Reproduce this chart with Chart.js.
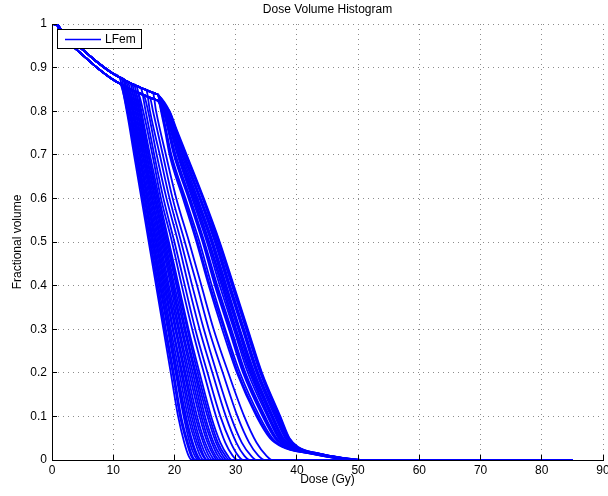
<!DOCTYPE html>
<html lang="en">
<head>
<meta charset="UTF-8">
<title>Dose Volume Histogram</title>
<style>
    body {
        margin: 0;
        background-color: #fff;
    }
    #wrap {
        width: 608px;
        height: 496px;
    }
</style>
<script src="https://cdn.jsdelivr.net/npm/chart.js"></script>
</head>
<body>
<div id="wrap"><canvas id="dvh" width="608" height="496"></canvas></div>
<script>
// shoulder shared by every curve (dose in Gy -> fractional volume)
var headDose  = [0, 0.8, 1.3, 2, 3, 4.6, 7, 10, 11, 12, 13, 14, 15, 16, 17];
var headUpper = [1, 1, 0.99, 0.977, 0.963, 0.946, 0.917, 0.886, 0.878, 0.870, 0.863, 0.857, 0.851, 0.845, 0.840];
var headLower = [1, 0.998, 0.984, 0.969, 0.954, 0.934, 0.904, 0.872, 0.864, 0.856, 0.849, 0.843, 0.837, 0.831, 0.826];

// steep curves: point where each leaves the shoulder (even rows on the upper
// shoulder, odd rows on the lower one), then dose at each volume level
var steepVols = [0.8, 0.7, 0.6, 0.5, 0.4, 0.3, 0.2, 0.1, 0.04, 0.01, 0];
var steepBreaks = [
    [11.0, 0.878], [11.2, 0.862], [11.3, 0.876], [11.4, 0.861], [11.6, 0.873],
    [11.7, 0.858], [11.8, 0.872], [12.0, 0.856], [12.1, 0.869], [12.3, 0.854],
    [12.4, 0.867], [12.6, 0.852], [12.8, 0.864], [12.9, 0.850], [13.1, 0.862],
    [13.3, 0.847], [13.4, 0.861], [13.6, 0.845], [13.8, 0.858], [14.1, 0.842],
    [14.5, 0.854], [15.0, 0.837], [15.4, 0.849], [16.0, 0.831], [16.5, 0.842]
];
var steepDoses = [
    [12.2, 13.4, 14.6, 15.8, 17.0, 18.2, 19.4, 20.6, 21.6, 22.3, 22.8],
    [12.3, 13.6, 14.8, 16.0, 17.2, 18.4, 19.7, 20.9, 22.0, 22.7, 23.2],
    [12.4, 13.7, 14.9, 16.1, 17.4, 18.6, 19.9, 21.1, 22.2, 22.9, 23.5],
    [12.6, 13.8, 15.1, 16.3, 17.6, 18.9, 20.2, 21.5, 22.5, 23.3, 23.9],
    [12.7, 13.9, 15.2, 16.5, 17.7, 19.0, 20.3, 21.7, 22.8, 23.6, 24.1],
    [12.8, 14.0, 15.3, 16.6, 17.9, 19.2, 20.5, 21.9, 23.0, 23.8, 24.4],
    [12.9, 14.2, 15.5, 16.8, 18.1, 19.4, 20.8, 22.2, 23.4, 24.2, 24.8],
    [13.1, 14.3, 15.6, 17.0, 18.3, 19.7, 21.1, 22.5, 23.7, 24.6, 25.2],
    [13.2, 14.4, 15.7, 17.1, 18.5, 19.8, 21.3, 22.8, 24.0, 24.8, 25.4],
    [13.3, 14.6, 15.9, 17.3, 18.7, 20.1, 21.6, 23.1, 24.3, 25.2, 25.8],
    [13.4, 14.8, 16.1, 17.5, 18.9, 20.3, 21.8, 23.4, 24.7, 25.6, 26.2],
    [13.6, 14.9, 16.3, 17.7, 19.1, 20.6, 22.1, 23.7, 25.0, 26.0, 26.6],
    [13.7, 15.1, 16.4, 17.9, 19.4, 20.8, 22.4, 24.1, 25.4, 26.4, 27.0],
    [13.9, 15.2, 16.6, 18.1, 19.6, 21.1, 22.7, 24.4, 25.7, 26.7, 27.4],
    [14.0, 15.4, 16.8, 18.3, 19.8, 21.3, 23.0, 24.7, 26.1, 27.1, 27.8],
    [14.2, 15.5, 16.9, 18.5, 20.0, 21.6, 23.3, 25.0, 26.4, 27.5, 28.2],
    [14.3, 15.7, 17.1, 18.7, 20.3, 21.8, 23.5, 25.4, 26.8, 27.9, 28.6],
    [14.5, 15.8, 17.3, 18.9, 20.5, 22.1, 23.8, 25.7, 27.1, 28.3, 29.0],
    [14.6, 16.0, 17.5, 19.1, 20.7, 22.3, 24.1, 26.0, 27.5, 28.7, 29.4],
    [14.9, 16.4, 17.8, 19.6, 21.2, 22.9, 24.8, 26.8, 28.3, 29.5, 30.3],
    [15.3, 16.7, 18.2, 20.0, 21.7, 23.4, 25.4, 27.5, 29.2, 30.4, 31.2],
    [15.7, 17.1, 18.7, 20.6, 22.3, 24.1, 26.2, 28.4, 30.1, 31.4, 32.3],
    [16.0, 17.6, 19.2, 21.1, 22.9, 24.8, 26.9, 29.2, 31.0, 32.5, 33.4],
    [16.5, 18.1, 19.7, 21.7, 23.7, 25.6, 27.9, 30.3, 32.2, 33.7, 34.7],
    [17.0, 18.6, 20.3, 22.4, 24.4, 26.4, 28.8, 31.4, 33.4, 35.0, 36.0]
];

// slower curves: all bend near 17.3 Gy, then dose at each volume level
var slowBendDose = 17.3;
var slowBendVol = [0.838, 0.824];
var slowVols = [0.8, 0.76, 0.7, 0.6, 0.5, 0.4, 0.3, 0.2, 0.1, 0.05, 0.03, 0.015, 0.005, 0];
var slowDoses = [
    [17.8, 18.4, 19.2, 21.4, 23.6, 25.6, 27.8, 30.2, 33.4, 35.6, 37.6, 42.0, 46.0, 49.0],
    [17.9, 18.5, 19.4, 21.6, 23.8, 25.8, 28.1, 30.4, 33.6, 35.8, 37.8, 42.1, 46.1, 49.1],
    [18.0, 18.6, 19.5, 21.8, 24.1, 26.1, 28.3, 30.7, 33.9, 36.0, 37.9, 42.2, 46.2, 49.2],
    [18.2, 18.9, 19.9, 22.3, 24.6, 26.6, 28.9, 31.2, 34.4, 36.4, 38.3, 42.4, 46.4, 49.5],
    [18.2, 19.0, 20.0, 22.4, 24.7, 26.8, 29.1, 31.4, 34.6, 36.6, 38.4, 42.5, 46.5, 49.6],
    [18.3, 19.1, 20.2, 22.6, 24.9, 27.0, 29.3, 31.6, 34.8, 36.7, 38.5, 42.5, 46.5, 49.7],
    [18.4, 19.3, 20.5, 22.9, 25.3, 27.4, 29.7, 32.0, 35.2, 37.0, 38.8, 42.7, 46.7, 49.9],
    [18.5, 19.4, 20.6, 23.1, 25.5, 27.7, 29.9, 32.3, 35.4, 37.2, 38.9, 42.8, 46.8, 50.0],
    [18.6, 19.4, 20.7, 23.3, 25.7, 27.9, 30.1, 32.5, 35.5, 37.4, 39.0, 42.8, 46.8, 50.1],
    [18.7, 19.6, 20.9, 23.5, 26.0, 28.1, 30.4, 32.7, 35.8, 37.6, 39.2, 42.9, 46.9, 50.2],
    [18.7, 19.7, 21.0, 23.6, 26.1, 28.3, 30.6, 32.9, 36.0, 37.7, 39.3, 43.0, 47.0, 50.3],
    [18.8, 19.7, 21.2, 23.8, 26.3, 28.5, 30.7, 33.1, 36.1, 37.8, 39.4, 43.1, 47.1, 50.4],
    [18.9, 19.9, 21.4, 24.1, 26.6, 28.8, 31.1, 33.4, 36.4, 38.1, 39.6, 43.2, 47.2, 50.6],
    [18.9, 20.0, 21.5, 24.2, 26.7, 29.0, 31.2, 33.6, 36.6, 38.2, 39.7, 43.2, 47.2, 50.6],
    [19.0, 20.0, 21.6, 24.3, 26.9, 29.1, 31.4, 33.7, 36.8, 38.4, 39.8, 43.3, 47.3, 50.7],
    [19.1, 20.2, 21.8, 24.6, 27.1, 29.4, 31.7, 34.0, 37.0, 38.6, 40.0, 43.4, 47.4, 50.9],
    [19.2, 20.2, 21.9, 24.7, 27.3, 29.6, 31.9, 34.2, 37.2, 38.7, 40.1, 43.5, 47.5, 50.9],
    [19.2, 20.3, 22.0, 24.8, 27.4, 29.7, 32.0, 34.3, 37.3, 38.8, 40.2, 43.5, 47.5, 51.0]
];

var maxDose = 85;
var doseTicks = [0, 10, 20, 30, 40, 50, 60, 70, 80, 90];
var volumeTicks = [0, 0.1, 0.2, 0.3, 0.4, 0.5, 0.6, 0.7, 0.8, 0.9, 1];

function buildCurve(useUpper, breakPt, doses, vols) {
    var head = useUpper ? headUpper : headLower;
    var pts = [];
    for (var i = 0; i < headDose.length; i++) {
        if (headDose[i] < breakPt[0]) pts.push({ x: headDose[i], y: head[i] });
    }
    pts.push({ x: breakPt[0], y: breakPt[1] });
    for (var j = 0; j < doses.length; j++) {
        pts.push({ x: doses[j], y: vols[j] });
    }
    pts.push({ x: maxDose, y: 0 });
    return pts;
}

var datasets = [];
steepDoses.forEach(function (doses, i) {
    datasets.push(buildCurve(i % 2 === 0, steepBreaks[i], doses, steepVols));
});
slowDoses.forEach(function (doses, i) {
    datasets.push(buildCurve(i % 2 === 0, [slowBendDose, slowBendVol[i % 2]], doses, slowVols));
});
datasets = datasets.map(function (pts) {
    return {
        label: 'LFem',
        data: pts,
        borderColor: '#0000ff',
        borderWidth: 1.8,
        pointRadius: 0,
        fill: false,
        cubicInterpolationMode: 'monotone'
    };
});

// inward tick marks and the boxed legend, drawn over the curves
var axesExtras = {
    id: 'axesExtras',
    afterDatasetsDraw: function (chart) {
        var ctx = chart.ctx;
        var area = chart.chartArea;
        var xs = chart.scales.x;
        var ys = chart.scales.y;
        ctx.save();
        ctx.strokeStyle = '#000';
        ctx.lineWidth = 1;
        ctx.beginPath();
        doseTicks.forEach(function (v) {
            var px = Math.round(xs.getPixelForValue(v) - 0.5) + 0.5;
            ctx.moveTo(px, area.bottom);
            ctx.lineTo(px, area.bottom - 5);
        });
        volumeTicks.forEach(function (v) {
            var py = Math.round(ys.getPixelForValue(v) - 0.5) + 0.5;
            ctx.moveTo(area.left, py);
            ctx.lineTo(area.left + 5, py);
        });
        ctx.stroke();

        // legend
        var bx = 57.5, by = 29.5, bw = 84, bh = 19;
        ctx.fillStyle = '#fff';
        ctx.fillRect(bx, by, bw, bh);
        ctx.strokeStyle = '#000';
        ctx.strokeRect(bx, by, bw, bh);
        ctx.strokeStyle = '#0000ff';
        ctx.lineWidth = 1.5;
        ctx.beginPath();
        ctx.moveTo(65, 39.5);
        ctx.lineTo(101, 39.5);
        ctx.stroke();
        ctx.fillStyle = '#000';
        ctx.font = "12px 'Liberation Sans', Arial, sans-serif";
        ctx.textBaseline = 'middle';
        ctx.textAlign = 'left';
        ctx.fillText('LFem', 105, 40);
        ctx.restore();
    }
};

Chart.defaults.font.family = "'Liberation Sans', Arial, sans-serif";
Chart.defaults.font.size = 12;
Chart.defaults.color = '#000';

var gridStyle = { color: '#8c8c8c', lineWidth: 1, drawTicks: false };
var borderStyle = { display: true, color: '#000', width: 1, dash: [1, 4] };

function plainLabel(v) {
    return String(+v.toFixed(1));
}

var ctx = document.getElementById('dvh').getContext('2d');
var chart = new Chart(ctx, {
    type: 'line',
    data: { datasets: datasets },
    options: {
        responsive: false,
        animation: false,
        layout: { padding: 0 },
        plugins: {
            legend: { display: false },
            tooltip: { enabled: false },
            title: {
                display: true,
                text: 'Dose Volume Histogram',
                fullSize: false,
                color: '#000',
                font: { size: 12, weight: 'normal' },
                padding: { top: 2, bottom: 7.6 }
            }
        },
        scales: {
            x: {
                type: 'linear',
                min: 0,
                max: 90,
                afterBuildTicks: function (s) {
                    s.ticks = doseTicks.map(function (v) { return { value: v }; });
                },
                afterFit: function (s) {
                    s.height = 36;
                    s.paddingLeft = 0;
                    s.paddingRight = 5;
                },
                grid: gridStyle,
                border: borderStyle,
                ticks: { padding: 3, maxRotation: 0, autoSkip: false, callback: plainLabel },
                title: { display: true, text: 'Dose (Gy)', padding: { top: 0, bottom: 8.8 } }
            },
            y: {
                type: 'linear',
                min: 0,
                max: 1,
                afterBuildTicks: function (s) {
                    s.ticks = volumeTicks.map(function (v) { return { value: v }; });
                },
                afterFit: function (s) {
                    s.width = 52;
                    s.paddingTop = 0;
                    s.paddingBottom = 0;
                },
                grid: gridStyle,
                border: borderStyle,
                ticks: { padding: 5, autoSkip: false, callback: plainLabel },
                title: { display: true, text: 'Fractional volume', padding: { top: 10, bottom: 0 } }
            }
        }
    },
    plugins: [axesExtras]
});
</script>
</body>
</html>
